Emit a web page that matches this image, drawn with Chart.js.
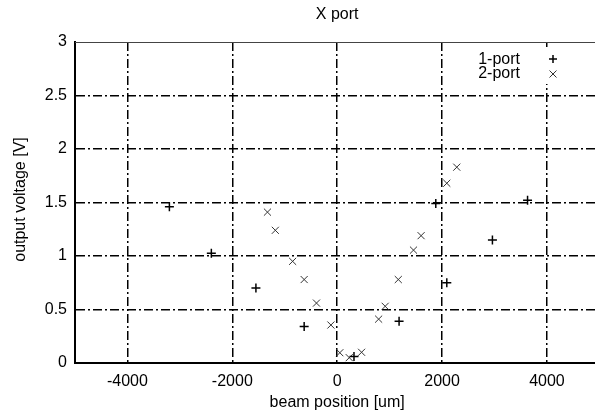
<!DOCTYPE html>
<html>
<head>
<meta charset="utf-8">
<script src="https://cdn.jsdelivr.net/npm/chart.js@4"></script>
<style>
html,body{margin:0;padding:0;background:#fff;overflow:hidden;width:595px;height:414px;}
canvas{display:block;}
</style>
</head>
<body>
<canvas id="c" width="620" height="414" style="width:620px;height:414px"></canvas>
<script>
// ---- data ----
const onePortPos = [-3200, -2400, -1550, -630, 320, 1180, 1880, 2090, 2960, 3630];
const onePortVolt = [1.46, 1.025, 0.70, 0.34, 0.06, 0.39, 1.49, 0.75, 1.15, 1.52];
const twoPortPos = [-1330, -1180, -850, -630, -395, -120, 50, 230, 465, 790, 915, 1165, 1455, 1600, 2090, 2280];
const twoPortVolt = [1.41, 1.24, 0.95, 0.78, 0.56, 0.355, 0.096, 0.05, 0.10, 0.41, 0.53, 0.78, 1.055, 1.19, 1.68, 1.83];
const xTicks = [-4000, -2000, 0, 2000, 4000];
const yTicks = [0, 0.5, 1, 1.5, 2, 2.5, 3];
const seriesNames = ['1-port', '2-port'];
const titleText = 'X port';
const xLabel = 'beam position [um]';
const yLabel = 'output voltage [V]';

const FONT = '"Liberation Sans", Arial, Helvetica, sans-serif';
const toPts = (xs, ys) => xs.map((x, i) => ({x: x, y: ys[i]}));

const textPlugin = {
  id: 'texts',
  afterDraw(chart) {
    const ctx = chart.ctx;
    const a = chart.chartArea;
    ctx.save();
    ctx.strokeStyle = '#444';
    ctx.lineWidth = 1;
    ctx.beginPath();
    ctx.moveTo(a.left, a.top + 0.5);
    ctx.lineTo(a.right, a.top + 0.5);
    ctx.stroke();
    ctx.beginPath();
    ctx.moveTo(a.right - 0.5, a.top);
    ctx.lineTo(a.right - 0.5, a.bottom);
    ctx.stroke();

    ctx.fillStyle = '#000';
    ctx.font = '16px ' + FONT;
    ctx.textAlign = 'center';
    ctx.textBaseline = 'middle';
    ctx.fillText(titleText, (a.left + a.right) / 2, 15);
    ctx.fillText(xLabel, (a.left + a.right) / 2, 403);
    ctx.save();
    ctx.translate(21, (a.top + a.bottom) / 2 - 3);
    ctx.rotate(-Math.PI / 2);
    ctx.fillText(yLabel, 0, 0);
    ctx.restore();

    // legend box
    ctx.fillStyle = '#fff';
    ctx.fillRect(462, 47, 140, 37);
    ctx.fillStyle = '#000';
    ctx.textAlign = 'right';
    ctx.fillText(seriesNames[0], 520, 60);
    ctx.fillText(seriesNames[1], 520, 74);
    ctx.strokeStyle = '#000';
    ctx.lineWidth = 1.5;
    ctx.beginPath();
    ctx.moveTo(549, 59); ctx.lineTo(557, 59);
    ctx.moveTo(553, 55); ctx.lineTo(553, 63);
    ctx.stroke();
    ctx.strokeStyle = '#333';
    ctx.lineWidth = 1;
    ctx.beginPath();
    ctx.moveTo(549.5, 70.5); ctx.lineTo(556.5, 77.5);
    ctx.moveTo(556.5, 70.5); ctx.lineTo(549.5, 77.5);
    ctx.stroke();
    ctx.restore();
  }
};

const gridColor = (ctx) => {
  const v = ctx.tick ? ctx.tick.value : null;
  return (v === 0 || v === 3) ? 'rgba(0,0,0,0)' : '#000';
};

new Chart(document.getElementById('c'), {
  type: 'scatter',
  data: {
    datasets: [
      {
        label: seriesNames[0],
        data: toPts(onePortPos, onePortVolt),
        pointStyle: 'cross',
        pointRadius: 4.5,
        pointBorderWidth: 1.5,
        borderColor: '#000',
        backgroundColor: '#000',
        showLine: false
      },
      {
        label: seriesNames[1],
        data: toPts(twoPortPos, twoPortVolt),
        pointStyle: 'crossRot',
        pointRadius: 5,
        pointBorderWidth: 1,
        borderColor: '#333',
        backgroundColor: '#333',
        showLine: false
      }
    ]
  },
  options: {
    responsive: false,
    animation: false,
    devicePixelRatio: 1,
    layout: { padding: { top: 42, right: 20.6, left: 0, bottom: 0 } },
    plugins: { legend: { display: false }, title: { display: false }, tooltip: { enabled: false } },
    scales: {
      x: {
        type: 'linear',
        min: -5000, max: 5000,
        afterBuildTicks(scale) { scale.ticks = xTicks.map(v => ({value: v})); },
        afterFit(scale) { scale.height = 51; },
        ticks: { color: '#000', font: { size: 16, family: FONT }, padding: 9, maxRotation: 0, autoSkip: false,
                 callback: (v) => String(v) },
        grid: { color: '#000', lineWidth: 1.5, drawTicks: false },
        border: { display: true, color: '#000', width: 2, dash: [9, 3, 2, 3] }
      },
      y: {
        type: 'linear',
        min: 0, max: 3,
        afterBuildTicks(scale) { scale.ticks = yTicks.map(v => ({value: v})); },
        afterFit(scale) { scale.width = 75; },
        ticks: { color: '#000', font: { size: 16, family: FONT }, padding: 8, autoSkip: false,
                 callback: (v) => String(v) },
        grid: { color: gridColor, lineWidth: 1.5, drawTicks: false },
        border: { display: true, color: '#000', width: 2, dash: [9, 3, 2, 3] }
      }
    }
  },
  plugins: [textPlugin]
});
</script>
</body>
</html>
